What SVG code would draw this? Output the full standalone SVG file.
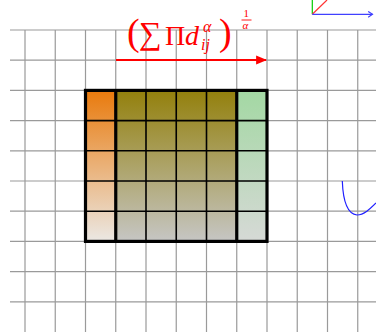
<svg xmlns="http://www.w3.org/2000/svg" width="376" height="334" viewBox="0 0 376 334">
<style>
.g{stroke:#9a9a9a;stroke-width:1.2;fill:none}
.thin{stroke:#000;stroke-width:1.6;fill:none}
.thick{stroke:#000;stroke-width:3.2;fill:none}
.m{font-family:"Liberation Serif","DejaVu Serif",serif;fill:#ff0000}
.i{font-style:italic}
</style>
<defs>
<linearGradient id="gO" x1="0" y1="0" x2="0" y2="1"><stop offset="0" stop-color="#e97a0c"/><stop offset="1" stop-color="#ebe8e4"/></linearGradient>
<linearGradient id="gM" x1="0" y1="0" x2="0" y2="1"><stop offset="0" stop-color="#93800c"/><stop offset="1" stop-color="#c6c6c4"/></linearGradient>
<linearGradient id="gG" x1="0" y1="0" x2="0" y2="1"><stop offset="0" stop-color="#a3d8a3"/><stop offset="1" stop-color="#d6d9d6"/></linearGradient>
<marker id="ar" viewBox="0 0 10 10" refX="9" refY="5" markerWidth="5.5" markerHeight="5.5" orient="auto" markerUnits="strokeWidth"><path d="M0,1 L10,5 L0,9 Z" fill="#ff0000"/></marker>
<marker id="ab" viewBox="0 0 10 10" refX="8" refY="5" markerWidth="6" markerHeight="6" orient="auto" markerUnits="strokeWidth"><path d="M2,1 L8,5 L2,9" fill="none" stroke="#4040ff" stroke-width="1.6"/></marker>
</defs>
<rect width="376" height="334" fill="#fff"/>
<g id="grid" class="g">
<path d="M10,30H376M10,60.2H376M10,90.4H376M10,120.6H376M10,150.8H376M10,181H376M10,211.2H376M10,241.4H376M10,271.6H376M10,301.8H376"/>
<path d="M25,30V332M55.25,30V332M85.5,30V332M115.75,30V332M146,30V332M176.25,30V332M206.5,30V332M236.75,30V332M267,30V332M297.25,30V332M327.5,30V332M357.75,30V332"/>
</g>
<g id="matrix">
<rect x="85.5" y="90.4" width="30.25" height="151" fill="url(#gO)"/>
<rect x="115.75" y="90.4" width="121" height="151" fill="url(#gM)"/>
<rect x="236.75" y="90.4" width="30.25" height="151" fill="url(#gG)"/>
<path class="thin" d="M85.5,120.6H267M85.5,150.8H267M85.5,181H267M85.5,211.2H267M146,90.4V241.4M176.25,90.4V241.4M206.5,90.4V241.4"/>
<path class="thick" d="M115.75,90.4V241.4M236.75,90.4V241.4"/>
<rect class="thick" x="85.5" y="90.4" width="181.5" height="151"/>
</g>
<g id="label">
<text class="m" x="127" y="45" font-size="38">(</text>
<text class="m" x="139" y="44" font-size="32">∑</text>
<text class="m" x="165" y="45" font-size="28">Π</text>
<text class="m i" x="185" y="45" font-size="28">d</text>
<text class="m i" x="203" y="32" font-size="16">α</text>
<text class="m i" x="201" y="50" font-size="16">ij</text>
<text class="m" x="219" y="45" font-size="38">)</text>
<text class="m" x="243.5" y="16.5" font-size="11">1</text>
<line x1="241.5" y1="20" x2="251.5" y2="20" stroke="#ff0000" stroke-width="0.9"/>
<text class="m i" x="242.5" y="29" font-size="11">α</text>
</g>
<g id="connectors">
<line x1="116" y1="60" x2="266" y2="60" stroke="#ff0000" stroke-width="2" marker-end="url(#ar)"/>
<line x1="312.3" y1="14.3" x2="312.3" y2="0" stroke="#00cc00" stroke-width="1.2"/>
<line x1="312.3" y1="14.3" x2="327" y2="0" stroke="#ff3333" stroke-width="1.2"/>
<line x1="312.3" y1="14.3" x2="372.5" y2="14.3" stroke="#4040ff" stroke-width="1.2" marker-end="url(#ab)"/>
<path d="M342.3,181 C343,200 347,214 357,215 C364,215 370,209 376,203" fill="none" stroke="#2020ff" stroke-width="1.2"/>
</g>
</svg>
